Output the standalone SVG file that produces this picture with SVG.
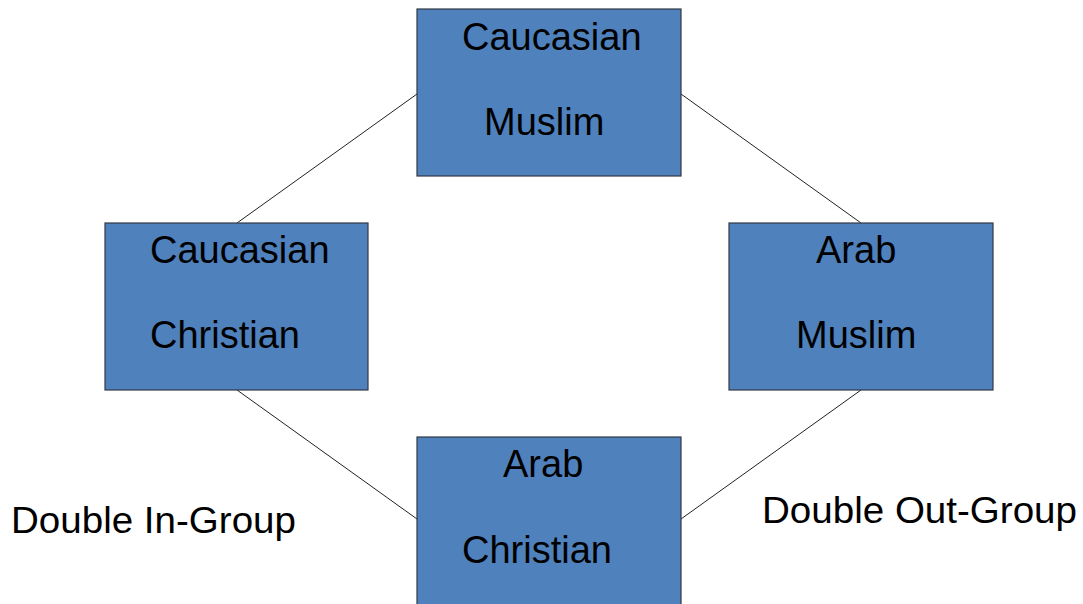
<svg xmlns="http://www.w3.org/2000/svg" width="1083" height="604" viewBox="0 0 1083 604">
<style>
.box{fill:#4f81bd;stroke:#333a44;stroke-width:1.2}
.t{font-family:"Liberation Sans",Arial,sans-serif;font-size:38px;fill:#000}
.l{font-family:"Liberation Sans",Arial,sans-serif;font-size:36px;fill:#000}
.c{stroke:#222;stroke-width:1;fill:none}
</style>
<rect width="1083" height="604" fill="#fff"/>
<g id="connectors">
<line class="c" x1="417" y1="94" x2="237" y2="223"/>
<line class="c" x1="681" y1="94" x2="861" y2="223"/>
<line class="c" x1="237" y1="390" x2="417" y2="519"/>
<line class="c" x1="861" y1="390" x2="681" y2="519"/>
</g>
<g id="caucasian-muslim">
<rect class="box" x="417" y="9" width="264" height="167"/>
<text class="t" x="462" y="50">Caucasian</text>
<text class="t" x="484" y="135">Muslim</text>
</g>
<g id="caucasian-christian">
<rect class="box" x="105" y="223" width="263" height="167"/>
<text class="t" x="150" y="263">Caucasian</text>
<text class="t" x="150" y="348">Christian</text>
</g>
<g id="arab-muslim">
<rect class="box" x="729" y="223" width="264" height="167"/>
<text class="t" x="816" y="263">Arab</text>
<text class="t" x="796" y="348">Muslim</text>
</g>
<g id="arab-christian">
<rect class="box" x="417" y="437" width="264" height="170"/>
<text class="t" x="503" y="477">Arab</text>
<text class="t" x="462" y="563">Christian</text>
</g>
<g id="labels">
<text class="l" x="11" y="533" textLength="285" lengthAdjust="spacingAndGlyphs">Double In-Group</text>
<text class="l" x="762" y="523" textLength="315" lengthAdjust="spacingAndGlyphs">Double Out-Group</text>
</g>
</svg>
